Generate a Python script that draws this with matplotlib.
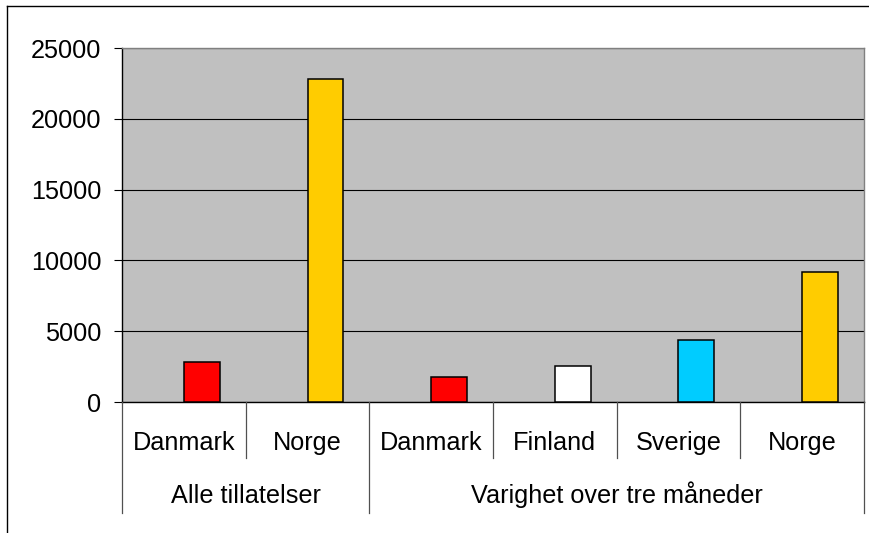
import matplotlib
matplotlib.use('Agg')
import matplotlib.pyplot as plt
import matplotlib.lines as mlines
import matplotlib.transforms as mtrans
import numpy as np

plt.rcParams['font.family'] = ['Liberation Sans', 'DejaVu Sans']

# data
groups = ['Alle tillatelser', 'Varighet over tre måneder']
group_sizes = [2, 4]
countries = ['Danmark', 'Norge', 'Danmark', 'Finland', 'Sverige', 'Norge']
values = [2800, 22800, 1800, 2550, 4350, 9150]
country_colors = {'Danmark': '#FF0000', 'Norge': '#FFCC00',
                  'Finland': '#FFFFFF', 'Sverige': '#00CCFF'}

fs = 18.2
W, H = 870, 533
fig = plt.figure(figsize=(W / 100, H / 100), dpi=100)
ax = fig.add_axes([122 / W, 1 - 402 / H, (864 - 122) / W, (402 - 48) / H])

n = len(countries)
x = np.arange(n) + 0.5
ax.bar(x, values, width=0.29, align='edge',
       color=[country_colors[c] for c in countries],
       edgecolor='black', linewidth=1.1, zorder=3)

ax.set_facecolor('#C0C0C0')
ax.set_xlim(0, n)
ax.set_ylim(0, 25000)
ax.set_yticks(np.arange(0, 25001, 5000))
ax.yaxis.grid(True, color='black', linewidth=0.8, zorder=1)
ax.set_axisbelow(True)
ax.tick_params(axis='y', direction='out', length=6, width=0.8,
               labelsize=fs, pad=9)
ax.set_xticks([])
for s in ['top', 'right']:
    ax.spines[s].set_color('#808080')
    ax.spines[s].set_linewidth(1.0)
ax.spines['left'].set_linewidth(1.0)
ax.spines['bottom'].set_linewidth(1.0)

# two-level category axis below the plot
trans = mtrans.blended_transform_factory(ax.transData, fig.transFigure)
y0 = 1 - 402 / H
y_small = 1 - 458 / H
y_big = 1 - 513 / H
sep_color = '#505050'
for b in range(1, n):
    yb = y_big if b in np.cumsum(group_sizes) else y_small
    fig.add_artist(mlines.Line2D([b, b], [y0, yb], transform=trans,
                                 color=sep_color, linewidth=0.9))
for b in [0, n]:
    fig.add_artist(mlines.Line2D([b, b], [y0, y_big], transform=trans,
                                 color=sep_color, linewidth=0.9))

for xi, c in zip(x, countries):
    fig.text(xi, 1 - 450 / H, c, transform=trans, ha='center',
             va='baseline', fontsize=fs)

start = 0
for g, size in zip(groups, group_sizes):
    fig.text(start + size / 2, 1 - 503 / H, g, transform=trans,
             ha='center', va='baseline', fontsize=fs)
    start += size

# outer chart border (cropped at right and bottom)
fig.add_artist(mlines.Line2D([7 / W, 1], [1 - 6 / H, 1 - 6 / H],
                             transform=fig.transFigure, color='black', linewidth=1.0))
fig.add_artist(mlines.Line2D([7 / W, 7 / W], [0, 1 - 6 / H],
                             transform=fig.transFigure, color='black', linewidth=1.0))

fig.savefig('out.png', dpi=100)
